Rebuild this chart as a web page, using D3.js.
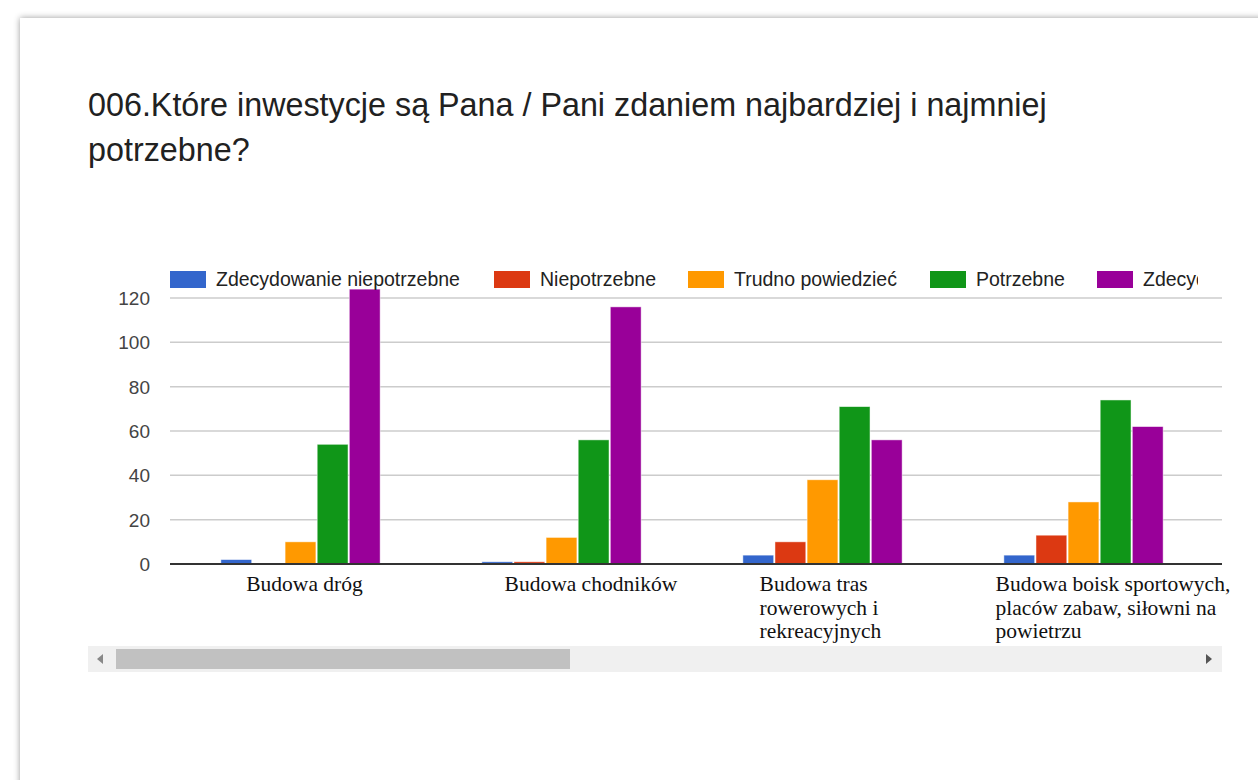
<!DOCTYPE html>
<html><head><meta charset="utf-8">
<script src="https://cdn.jsdelivr.net/npm/d3@7"></script>
<style>
html,body{margin:0;padding:0;background:#fff;width:1258px;height:780px;overflow:hidden;}
</style></head>
<body>
<svg id="chart" width="1258" height="780"></svg>
<script>
const title = ["006.Które inwestycje są Pana / Pani zdaniem najbardziej i najmniej", "potrzebne?"];
const categories = ["Budowa dróg", "Budowa chodników", "Budowa tras rowerowych i rekreacyjnych", "Budowa boisk sportowych, placów zabaw, siłowni na powietrzu"];
const categoryLines = [["Budowa dróg"], ["Budowa chodników"], ["Budowa tras", "rowerowych i", "rekreacyjnych"], ["Budowa boisk sportowych,", "placów zabaw, siłowni na", "powietrzu"]];
const seriesNames = ["Zdecydowanie niepotrzebne", "Niepotrzebne", "Trudno powiedzieć", "Potrzebne", "Zdecydowanie potrzebne"];
const colors = ["#3366cc", "#dc3912", "#ff9900", "#109618", "#990099"];
const zdecydowanieNiepotrzebne = [2, 1, 4, 4];
const niepotrzebne = [0, 1, 10, 13];
const trudnoPowiedziec = [10, 12, 38, 28];
const potrzebne = [54, 56, 71, 74];
const zdecydowaniePotrzebne = [124, 116, 56, 62];
const series = [zdecydowanieNiepotrzebne, niepotrzebne, trudnoPowiedziec, potrzebne, zdecydowaniePotrzebne];
const yTicks = [0, 20, 40, 60, 80, 100, 120];

const svg = d3.select("#chart");
const defs = svg.append("defs");
const f = defs.append("filter").attr("id","sh").attr("x","-5%").attr("y","-5%").attr("width","110%").attr("height","110%");
f.append("feDropShadow").attr("dx",0).attr("dy",0).attr("stdDeviation",3).attr("flood-color","#000").attr("flood-opacity",0.4);
const clip = defs.append("clipPath").attr("id","plotclip");
clip.append("rect").attr("x",88).attr("y",262).attr("width",1134).attr("height",384);
const lclip = defs.append("clipPath").attr("id","legclip");
lclip.append("rect").attr("x",88).attr("y",262).attr("width",1110).attr("height",30);

// card
svg.append("rect").attr("x",20).attr("y",18).attr("width",1300).attr("height",800).attr("fill","#fff").attr("filter","url(#sh)");

// title
svg.append("g").selectAll("text").data(title).join("text")
  .attr("x",88).attr("y",(d,i)=>116+i*45)
  .attr("font-family","Liberation Sans, Arial, sans-serif").attr("font-size",32.3)
  .attr("fill","#212121").text(d=>d);

const x = d3.scaleBand().domain(categories).range([170, 1214]).paddingInner(0.38).paddingOuter(0.19);
const x1 = d3.scaleBand().domain(d3.range(seriesNames.length)).range([0, x.bandwidth()]).padding(0.04);
const y = d3.scaleLinear().domain([0,120]).range([564, 298]);

const plot = svg.append("g").attr("clip-path","url(#plotclip)");

// gridlines
plot.append("g").selectAll("line").data(yTicks.filter(t=>t>0)).join("line")
  .attr("x1",170).attr("x2",1222).attr("y1",d=>y(d)).attr("y2",d=>y(d))
  .attr("stroke","#cccccc").attr("stroke-width",1.5);

// y labels
svg.append("g").selectAll("text").data(yTicks).join("text")
  .attr("x",150).attr("y",d=>y(d)+7).attr("text-anchor","end")
  .attr("font-family","Liberation Sans, Arial, sans-serif").attr("font-size",19)
  .attr("fill","#444").text(d=>d);

// bars
const groups = plot.append("g").selectAll("g").data(categories).join("g")
  .attr("transform",d=>`translate(${x(d)},0)`);
groups.selectAll("rect").data((d,ci)=>series.map((s,si)=>({si, v:s[ci]}))).join("rect")
  .attr("x",d=>x1(d.si)).attr("width",x1.bandwidth())
  .attr("y",d=>y(d.v)).attr("height",d=>y(0)-y(d.v))
  .attr("fill",d=>colors[d.si]).attr("stroke","#ffffff").attr("stroke-opacity",0.6).attr("stroke-width",0.8);

// baseline
plot.append("line").attr("x1",170).attr("x2",1222).attr("y1",y(0)).attr("y2",y(0))
  .attr("stroke","#333").attr("stroke-width",2);

// legend
const legX = [170, 494, 688, 930, 1097];
const leg = svg.append("g").attr("clip-path","url(#legclip)").selectAll("g").data(seriesNames).join("g")
  .attr("transform",(d,i)=>`translate(${legX[i]},271)`);
leg.append("rect").attr("width",36).attr("height",17).attr("fill",(d,i)=>colors[i]);
leg.append("text").attr("x",46).attr("y",15)
  .attr("font-family","Liberation Sans, Arial, sans-serif").attr("font-size",19.5)
  .attr("fill","#222").text(d=>d);

// category labels
const labelOffset = [0, 24, 18, -7];
categories.forEach((c,ci)=>{
  const g = svg.append("g");
  g.selectAll("text").data(categoryLines[ci]).join("text")
    .attr("x",ci===0 ? x(c)+x.bandwidth()/2+4 : x(c)+labelOffset[ci])
    .attr("text-anchor", ci===0 ? "middle" : "start")
    .attr("y",(d,i)=>591+i*23.5)
    .attr("font-family","Liberation Serif, Times New Roman, serif").attr("font-size",21.5)
    .attr("fill","#111").text(d=>d);
});

// scrollbar
svg.append("rect").attr("x",88).attr("y",646).attr("width",1134).attr("height",26).attr("fill","#f0f0f0");
svg.append("rect").attr("x",116).attr("y",649).attr("width",454).attr("height",20).attr("fill","#c1c1c1");
svg.append("path").attr("d","M97,659 L103,654 L103,664 Z").attr("fill","#888");
svg.append("path").attr("d","M1212,659 L1206,654 L1206,664 Z").attr("fill","#555");
</script>
</body></html>
